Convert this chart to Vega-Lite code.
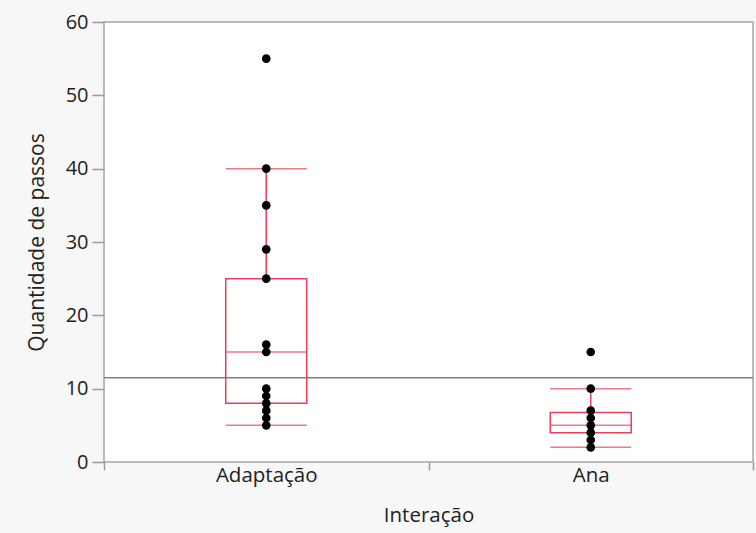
{
  "$schema": "https://vega.github.io/schema/vega-lite/v6.json",
  "autosize": "none",
  "width": 649,
  "height": 440,
  "padding": {"left": 104, "top": 22, "right": 3, "bottom": 71},
  "background": "#f7f7f7",
  "config": {
    "font": "Open Sans",
    "view": {"fill": "white", "stroke": "#a6a6a6", "strokeWidth": 1.5},
    "axis": {"labelFont": "Open Sans", "titleFont": "Open Sans", "labelColor": "#222", "titleColor": "#222", "titleFontWeight": "normal", "domain": false, "grid": false, "tickColor": "#9a9a9a", "tickWidth": 1.5}
  },
  "datasets": {
    "pts": [
      {"grupo": "Adaptação", "passos": 55},
      {"grupo": "Adaptação", "passos": 40},
      {"grupo": "Adaptação", "passos": 35},
      {"grupo": "Adaptação", "passos": 29},
      {"grupo": "Adaptação", "passos": 25},
      {"grupo": "Adaptação", "passos": 16},
      {"grupo": "Adaptação", "passos": 15},
      {"grupo": "Adaptação", "passos": 10},
      {"grupo": "Adaptação", "passos": 9},
      {"grupo": "Adaptação", "passos": 8},
      {"grupo": "Adaptação", "passos": 7},
      {"grupo": "Adaptação", "passos": 6},
      {"grupo": "Adaptação", "passos": 5},
      {"grupo": "Ana", "passos": 15},
      {"grupo": "Ana", "passos": 10},
      {"grupo": "Ana", "passos": 7},
      {"grupo": "Ana", "passos": 6},
      {"grupo": "Ana", "passos": 5},
      {"grupo": "Ana", "passos": 4},
      {"grupo": "Ana", "passos": 3},
      {"grupo": "Ana", "passos": 2}
    ],
    "stats": [
      {"grupo": "Adaptação", "lo": 5, "q1": 8, "med": 15, "q3": 25, "hi": 40},
      {"grupo": "Ana", "lo": 2, "q1": 4, "med": 5, "q3": 6.75, "hi": 10}
    ],
    "media": [{"m": 11.5}]
  },
  "layer": [
    {
      "data": {"name": "media"},
      "mark": {"type": "rule", "color": "#7f7f7f", "strokeWidth": 1.5},
      "encoding": {"y": {"field": "m", "type": "quantitative"}}
    },
    {
      "data": {"name": "stats"},
      "mark": {"type": "bar", "fill": null, "fillOpacity": 0, "stroke": "#e8405a", "strokeWidth": 1.5, "width": 81},
      "encoding": {
        "x": {"field": "grupo", "type": "nominal"},
        "y": {"field": "q1", "type": "quantitative"},
        "y2": {"field": "q3"}
      }
    },
    {
      "data": {"name": "stats"},
      "mark": {"type": "rule", "color": "#e8405a", "strokeWidth": 1.5},
      "encoding": {
        "x": {"field": "grupo", "type": "nominal"},
        "y": {"field": "lo", "type": "quantitative"},
        "y2": {"field": "q1"}
      }
    },
    {
      "data": {"name": "stats"},
      "mark": {"type": "rule", "color": "#e8405a", "strokeWidth": 1.5},
      "encoding": {
        "x": {"field": "grupo", "type": "nominal"},
        "y": {"field": "q3", "type": "quantitative"},
        "y2": {"field": "hi"}
      }
    },
    {
      "data": {"name": "stats"},
      "mark": {"type": "tick", "color": "#e8405a", "thickness": 1.5, "size": 81, "orient": "horizontal"},
      "encoding": {"x": {"field": "grupo", "type": "nominal"}, "y": {"field": "lo", "type": "quantitative"}}
    },
    {
      "data": {"name": "stats"},
      "mark": {"type": "tick", "color": "#e8405a", "thickness": 1.5, "size": 81, "orient": "horizontal"},
      "encoding": {"x": {"field": "grupo", "type": "nominal"}, "y": {"field": "hi", "type": "quantitative"}}
    },
    {
      "data": {"name": "stats"},
      "mark": {"type": "tick", "color": "#e8405a", "thickness": 1.5, "size": 81, "orient": "horizontal"},
      "encoding": {"x": {"field": "grupo", "type": "nominal"}, "y": {"field": "med", "type": "quantitative"}}
    },
    {
      "data": {"name": "pts"},
      "mark": {"type": "circle", "color": "black", "opacity": 1, "size": 75},
      "encoding": {
        "x": {
          "field": "grupo", "type": "nominal",
          "scale": {"paddingInner": 0, "paddingOuter": 0},
          "axis": {"title": "Interação", "labelAngle": 0, "labelAlign": "center", "labelFontSize": 20.5, "titleFontSize": 20.5, "ticks": true, "tickBand": "extent", "tickSize": 8, "labelPadding": 5, "titlePadding": 20}
        },
        "y": {
          "field": "passos", "type": "quantitative",
          "scale": {"domain": [0, 60], "nice": false},
          "axis": {"title": "Quantidade de passos", "values": [0, 10, 20, 30, 40, 50, 60], "labelFontSize": 20, "titleFontSize": 21, "tickSize": 12, "labelPadding": 4, "titlePadding": 18}
        }
      }
    }
  ]
}
